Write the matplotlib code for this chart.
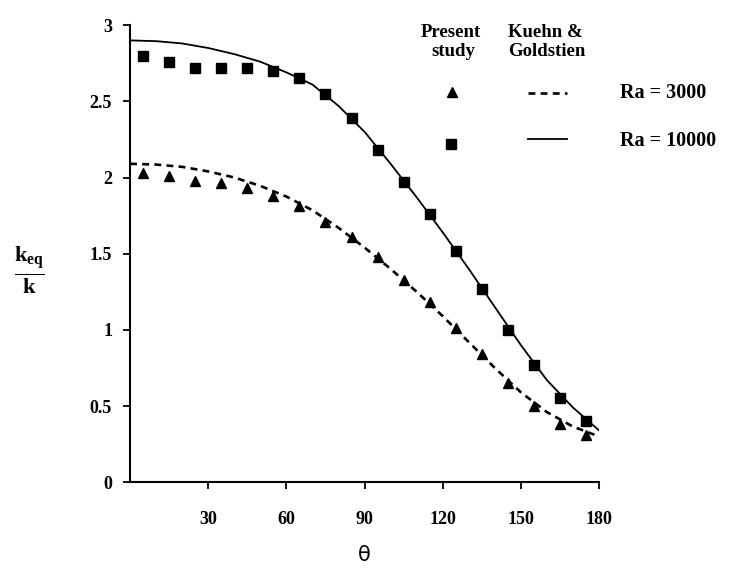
'''local equivalent conductivity vs angle, present study vs Kuehn & Goldstein'''
import matplotlib
matplotlib.use('Agg')
import matplotlib.pyplot as plt
from matplotlib.lines import Line2D

# data
theta_pts = [5, 15, 25, 35, 45, 55, 65, 75, 85, 95, 105, 115, 125, 135, 145, 155, 165, 175]
keq_ra3000_pts = [2.03, 2.01, 1.98, 1.965, 1.93, 1.88, 1.81, 1.71, 1.61, 1.475, 1.33,
                  1.18, 1.01, 0.84, 0.65, 0.50, 0.38, 0.31]
keq_ra10000_pts = [2.80, 2.76, 2.72, 2.72, 2.72, 2.70, 2.65, 2.55, 2.39, 2.18, 1.97,
                   1.76, 1.52, 1.27, 1.00, 0.77, 0.55, 0.40]

theta_kg = [0, 10, 20, 30, 40, 50, 60, 70, 80, 90, 100, 110, 120, 130, 140, 150, 160, 170, 180]
keq_ra3000_kg = [2.09, 2.085, 2.07, 2.04, 2.00, 1.945, 1.875, 1.785, 1.67, 1.54, 1.40,
                 1.25, 1.09, 0.92, 0.75, 0.59, 0.46, 0.365, 0.30]
keq_ra10000_kg = [2.90, 2.895, 2.88, 2.85, 2.81, 2.76, 2.69, 2.61, 2.47, 2.30, 2.09,
                  1.87, 1.64, 1.40, 1.15, 0.90, 0.67, 0.49, 0.34]

x_ticks = [30, 60, 90, 120, 150, 180]
y_ticks = [0, 0.5, 1, 1.5, 2, 2.5, 3]
y_ticklabels = ['0', '0.5', '1', '1.5', '2', '2.5', '3']

plt.rcParams['font.family'] = 'Liberation Serif'
plt.rcParams['font.weight'] = 'bold'
plt.rcParams['mathtext.fontset'] = 'custom'
plt.rcParams['mathtext.rm'] = 'Liberation Serif:bold'
plt.rcParams['mathtext.it'] = 'Liberation Serif:bold'
plt.rcParams['mathtext.bf'] = 'Liberation Serif:bold'

fig = plt.figure(figsize=(7.35, 5.72), dpi=100)
ax = fig.add_axes([0.177, 0.157, 0.638, 0.799])

# Kuehn & Goldstein curves
ax.plot(theta_kg, keq_ra3000_kg, color='black', lw=1.9, ls=(0, (2.6, 2.0)))
ax.plot(theta_kg, keq_ra10000_kg, color='black', lw=1.3, ls='-')
# present study
ax.plot(theta_pts, keq_ra3000_pts, ls='none', marker='^', ms=7, color='black')
ax.plot(theta_pts, keq_ra10000_pts, ls='none', marker='s', ms=6.5, color='black')

ax.set_xlim(0, 180)
ax.set_ylim(0, 3)
ax.set_xticks(x_ticks)
ax.set_yticks(y_ticks)
ax.set_yticklabels(y_ticklabels)
ax.spines['top'].set_visible(False)
ax.spines['right'].set_visible(False)
ax.spines['left'].set_linewidth(1.5)
ax.spines['bottom'].set_linewidth(1.5)
ax.tick_params(axis='both', direction='out', length=5, width=1.3, labelsize=13, pad=8)
for lab in ax.get_xticklabels() + ax.get_yticklabels():
    lab.set_fontweight('bold')
ax.xaxis.set_tick_params(pad=16)

# axis labels
fig.text(0.496, 0.030, '\u03b8', fontsize=15, family='DejaVu Sans', fontweight='normal',
         ha='center', va='center')
fig.text(0.040, 0.528, r'$\frac{\mathrm{k_{eq}}}{\mathrm{k}}$', fontsize=23, ha='center', va='center')

# hand-built legend
fig.text(0.614, 0.944, 'Present', fontsize=13.5, ha='center', va='center')
fig.text(0.617, 0.910, 'study', fontsize=13.5, ha='center', va='center')
fig.text(0.742, 0.944, 'Kuehn &', fontsize=13.5, ha='center', va='center')
fig.text(0.744, 0.910, 'Goldstien', fontsize=13.5, ha='center', va='center')
fig.text(0.843, 0.838, 'Ra = 3000', fontsize=14.5, ha='left', va='center')
fig.text(0.843, 0.754, 'Ra = 10000', fontsize=14.5, ha='left', va='center')
fig.add_artist(Line2D([0.615], [0.840], marker='^', ms=7, color='black',
                      transform=fig.transFigure))
fig.add_artist(Line2D([0.614], [0.748], marker='s', ms=6.5, color='black',
                      transform=fig.transFigure))
fig.add_artist(Line2D([0.718, 0.772], [0.838, 0.838], lw=1.9, ls=(0, (2.6, 2.0)),
                      color='black', transform=fig.transFigure))
fig.add_artist(Line2D([0.718, 0.772], [0.757, 0.757], lw=1.3, color='black',
                      transform=fig.transFigure))

fig.savefig('out.png', dpi=100, facecolor='white')
